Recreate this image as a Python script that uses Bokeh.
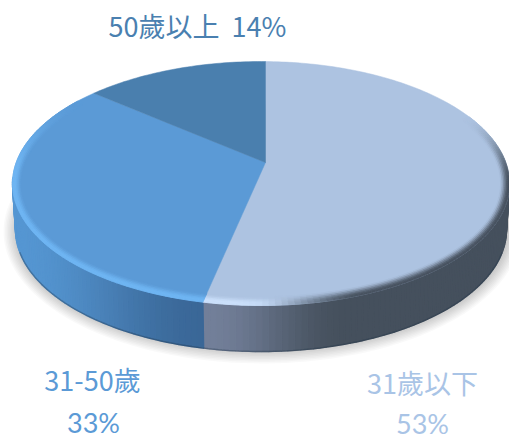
import numpy as np
from bokeh.plotting import figure
from bokeh.models import Range1d
from bokeh.core.properties import value
from bokeh.embed import file_html
from bokeh.resources import INLINE

categories = ["31歲以下", "31-50歲", "50歲以上"]
shares = [53, 33, 14]
top_colors = ["#adc3e1", "#5b9ad6", "#4a7fae"]
text_colors = ["#a9c4e6", "#5b9ad6", "#4a80b0"]

# geometry of the drawing, in page pixels of the reference
CX, CY, RX, RY = 260.5, 183, 248.5, 122
AX, AY = 265, 162
ASPECT_FAR, ASPECT_NEAR = 2.05, 2.35
DEPTH = 46
BEVEL = 12


def hx(c):
    return np.array([int(c[i:i + 2], 16) for i in (1, 3, 5)], float)


def mix(a, b, t):
    t = float(np.clip(t, 0, 1))
    v = hx(a) * (1 - t) + hx(b) * t
    return "#%02x%02x%02x" % tuple(int(round(x)) for x in v)


def smooth(a, b, x):
    t = np.clip((x - a) / (b - a), 0, 1)
    return t * t * (3 - 2 * t)


def edge(theta, d=0.0):
    """Ray from the apex in the direction of the slice angle, cut with the rim."""
    asp = ASPECT_FAR if np.cos(theta) > 0 else ASPECT_NEAR
    dx, dy = np.sin(theta) * asp, -np.cos(theta)
    rx, ry = RX - d, RY - d
    ox, oy = (AX - CX) / rx, (AY - CY) / ry
    ux, uy = dx / rx, dy / ry
    a = ux * ux + uy * uy
    b = 2 * (ox * ux + oy * uy)
    c = ox * ox + oy * oy - 1
    s = (-b + np.sqrt(b * b - 4 * a * c)) / (2 * a)
    return AX + s * dx, AY + s * dy


def wall_color(i, x):
    if i == 0:
        return mix("#727f99", "#45505d", smooth(205, 345, x))
    if i == 1:
        return mix("#5596d2", "#3a6797", smooth(14, 205, x))
    return "#3f6f9c"


def bevel_color(i, x, y, t):
    """t = 0 inner edge of bevel, 1 at the rim"""
    base = top_colors[i]
    if i == 0:
        dark = smooth(255, 360, x) * smooth(115, 185, y)
        dark_t = smooth(0.2, 0.95, t)
        light_t = smooth(0.3, 0.85, t) * smooth(200, 280, y)
        c = mix(base, "#cbe0fb", light_t * (1 - smooth(230, 320, x)))
        return mix(c, "#47525f", dark * dark_t)
    if i == 1:
        peak = smooth(0.25, 0.85, t) * smooth(95, 175, y)
        c = mix(base, "#6fb5f2", peak)
        return c
    return base


fig = figure(width=509, height=441, output_backend="svg", toolbar_location=None,
             x_range=Range1d(0, 509), y_range=Range1d(441, 0),
             min_border=0, outline_line_color=None, border_fill_color="white")
fig.axis.visible = False
fig.grid.visible = False

# soft shadow under the disc
phi = np.linspace(0, 2 * np.pi, 180)
for k in range(9):
    g = 1 + k * 1.5
    fig.patch(CX + 1 + (RX + g - 3) * np.cos(phi), CY + DEPTH + 2 + (RY + g - 3) * np.sin(phi),
              fill_color="#000000", fill_alpha=0.022, line_color=None)

fractions = np.cumsum([0] + shares) / sum(shares)

# outer wall as thin strips, drawn first
wx, wy, wc = [], [], []
for i in range(len(shares)):
    a0, a1 = fractions[i] * 2 * np.pi, fractions[i + 1] * 2 * np.pi
    n = int(max(12, (a1 - a0) / (2 * np.pi) * 320))
    th = np.linspace(a0, a1, n + 1)
    for j in range(n):
        x0, y0 = edge(th[j])
        x1, y1 = edge(th[j + 1])
        if y0 < CY - 5 and y1 < CY - 5:
            continue
        xm = (x0 + x1) / 2
        sc = 1 - 0.012
        wx.append([x0, x1, CX + (x1 - CX) * sc, CX + (x0 - CX) * sc])
        wy.append([y0, y1, y1 + DEPTH, y0 + DEPTH])
        wc.append(wall_color(i, xm))
fig.patches(wx, wy, fill_color=wc, line_color=wc, line_width=1.4)

# dark foot of the wall
foot = np.linspace(0.06, 0.94, 200) * np.pi
fig.line(CX + (RX - 3) * np.cos(foot), CY + DEPTH + RY * np.sin(foot),
         line_color="#1f3347", line_alpha=0.35, line_width=1.5)

bx, by, bc = [], [], []
for i in range(len(shares)):
    a0, a1 = fractions[i] * 2 * np.pi, fractions[i + 1] * 2 * np.pi
    n = int(max(12, (a1 - a0) / (2 * np.pi) * 320))
    th = np.linspace(a0, a1, n + 1)
    # top face
    face = [edge(t) for t in th]
    fig.patch([AX] + [p[0] for p in face], [AY] + [p[1] for p in face],
              fill_color=top_colors[i], line_color=top_colors[i], line_width=0.5)
    # bevel rings
    steps = 8
    for s in range(steps):
        d0, d1 = BEVEL * (1 - s / steps), BEVEL * (1 - (s + 1) / steps)
        tm = (s + 0.5) / steps
        for j in range(n):
            p0, p1 = edge(th[j], d0), edge(th[j + 1], d0)
            p2, p3 = edge(th[j + 1], d1), edge(th[j], d1)
            xm, ym = (p0[0] + p1[0]) / 2, (p0[1] + p1[1]) / 2
            col = bevel_color(i, xm, ym, tm)
            if col == top_colors[i]:
                continue
            bx.append([p0[0], p1[0], p2[0], p3[0]])
            by.append([p0[1], p1[1], p2[1], p3[1]])
            bc.append(col)

fig.patches(bx, by, fill_color=bc, line_color=bc, line_width=0.8)

# labels
cjk = value("Noto Sans CJK TC")
for t, x, y, c in [
    (f"{categories[2]}\u00a0\u00a0{shares[2]}%", 197, 25, text_colors[2]),
    (categories[1], 92, 379, text_colors[1]),
    (categories[0], 422, 382, text_colors[0]),
]:
    fig.text([x], [y], text=[t], text_font=cjk, text_font_size="27px", text_color=c,
             text_align="center", text_baseline="middle")

latin = value("Lato")
for t, x, y, c in [
    (f"{shares[1]}%", 93, 422, text_colors[1]),
    (f"{shares[0]}%", 422, 423, text_colors[0]),
]:
    fig.text([x], [y], text=[t], text_font=latin, text_font_size="27px", text_color=c,
             text_align="center", text_baseline="middle")

open("out.html", "w").write(file_html(fig, INLINE))
